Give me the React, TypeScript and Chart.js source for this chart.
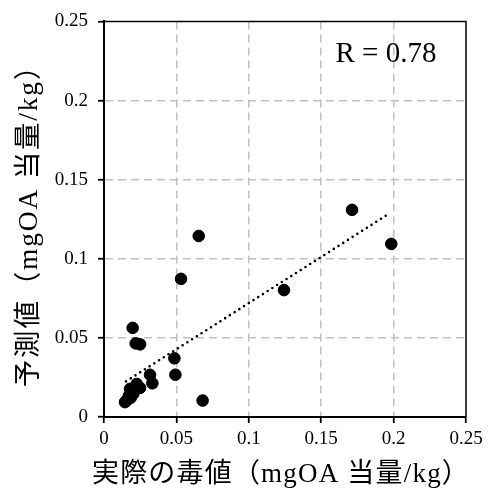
import React, { useEffect, useRef } from "react";
import { Chart, registerables } from "chart.js";

Chart.register(...registerables);

const actualValues = [
  0.0145, 0.0158, 0.0168, 0.0185, 0.0172, 0.0202, 0.018, 0.0226, 0.0249, 0.0226,
  0.0334, 0.0318, 0.0493, 0.0486, 0.0681, 0.0219, 0.0249, 0.0198, 0.0532, 0.0654,
  0.1243, 0.1713, 0.1984,
];
const predictedValues = [
  0.0094, 0.0105, 0.0115, 0.0122, 0.0135, 0.0146, 0.0178, 0.0185, 0.0184, 0.0209,
  0.0213, 0.0267, 0.0267, 0.0371, 0.0104, 0.0465, 0.0459, 0.0563, 0.0873, 0.1144,
  0.0802, 0.1309, 0.1094,
];
const trendX = [0.0152, 0.196];
const trendY = [0.0225, 0.128];
const tickValues = [0, 0.05, 0.1, 0.15, 0.2, 0.25];
const xTitle = "実際の毒値（mgOA 当量/kg）";
const yTitle = "予測値（mgOA 当量/kg）";
const rLabel = "R = 0.78";

const SERIF = '"Liberation Serif", "Noto Sans CJK JP", serif';

export default function App() {
  const ref = useRef<HTMLCanvasElement | null>(null);
  useEffect(() => {
    document.body.style.margin = "0";
    const canvas = ref.current;
    if (!canvas) return;

    const overlay = {
      id: "overlay",
      afterDraw(chart: any) {
        const { ctx, chartArea } = chart;
        ctx.save();
        ctx.strokeStyle = "#000";
        ctx.lineWidth = 1.5;
        ctx.beginPath();
        ctx.moveTo(chartArea.left, chartArea.top);
        ctx.lineTo(chartArea.right, chartArea.top);
        ctx.lineTo(chartArea.right, chartArea.bottom);
        ctx.stroke();

        ctx.fillStyle = "#000";
        ctx.textAlign = "center";
        ctx.textBaseline = "middle";
        ctx.font = `29px ${SERIF}`;
        ctx.fillText(rLabel, 386, 54);

        ctx.font = `27px ${SERIF}`;
        (ctx as any).letterSpacing = "1.2px";
        ctx.fillText(xTitle, (chartArea.left + chartArea.right) / 2 - 4, 475);

        ctx.font = `27.5px ${SERIF}`;
        (ctx as any).letterSpacing = "1.8px";
        ctx.translate(30, 219);
        ctx.rotate(-Math.PI / 2);
        ctx.fillText(yTitle, 0, 0);
        ctx.restore();
      },
    };

    const tickCb = (v: any) => {
      const n = Number(v);
      return tickValues.some((t) => Math.abs(t - n) < 1e-9) ? String(+n.toFixed(3)) : "";
    };

    const gridColor = (c: any) =>
      c.tick && (c.tick.value === 0 || c.tick.value === 0.25) ? "rgba(0,0,0,0)" : "#c0c0c0";

    const chart = new Chart(canvas, {
      type: "scatter",
      data: {
        datasets: [
          {
            type: "scatter",
            data: actualValues.map((x, i) => ({ x, y: predictedValues[i] })),
            backgroundColor: "#000",
            borderColor: "#000",
            pointRadius: 5.8,
            pointHoverRadius: 5.8,
          },
          {
            type: "line",
            data: trendX.map((x, i) => ({ x, y: trendY[i] })),
            borderColor: "#000",
            borderWidth: 2.6,
            borderDash: [0, 5.6],
            borderCapStyle: "round",
            pointRadius: 0,
            fill: false,
          } as any,
        ],
      },
      options: {
        animation: false,
        responsive: true,
        maintainAspectRatio: false,
        layout: { padding: { left: 0, right: 32, top: 17, bottom: 0 } },
        plugins: { legend: { display: false }, tooltip: { enabled: false } },
        scales: {
          x: {
            type: "linear",
            min: 0,
            max: 0.25,
            afterFit: (s: any) => {
              s.height = 73;
            },
            afterBuildTicks: (s: any) => {
              s.ticks = tickValues.map((v) => ({ value: v }));
            },
            ticks: {
              callback: tickCb,
              color: "#000",
              font: { family: SERIF, size: 19 },
              padding: 5,
              maxRotation: 0,
            },
            grid: {
              color: gridColor,
              lineWidth: 1.5,
              tickColor: "#000",
              tickLength: 6,
              tickWidth: 1.8,
            },
            border: { color: "#000", width: 2, dash: [8, 5] },
          },
          y: {
            type: "linear",
            min: 0,
            max: 0.25,
            afterFit: (s: any) => {
              s.width = 104;
            },
            afterBuildTicks: (s: any) => {
              s.ticks = tickValues.map((v) => ({ value: v }));
            },
            ticks: {
              callback: tickCb,
              color: "#000",
              font: { family: SERIF, size: 19 },
              padding: 10,
            },
            grid: {
              color: gridColor,
              lineWidth: 1.5,
              tickColor: "#000",
              tickLength: 6,
              tickWidth: 1.8,
            },
            border: { color: "#000", width: 2, dash: [8, 5] },
          },
        },
      },
      plugins: [overlay],
    });
    return () => chart.destroy();
  }, []);

  return (
    <div style={{ width: 498, height: 490, position: "relative" }}>
      <canvas ref={ref} />
    </div>
  );
}
